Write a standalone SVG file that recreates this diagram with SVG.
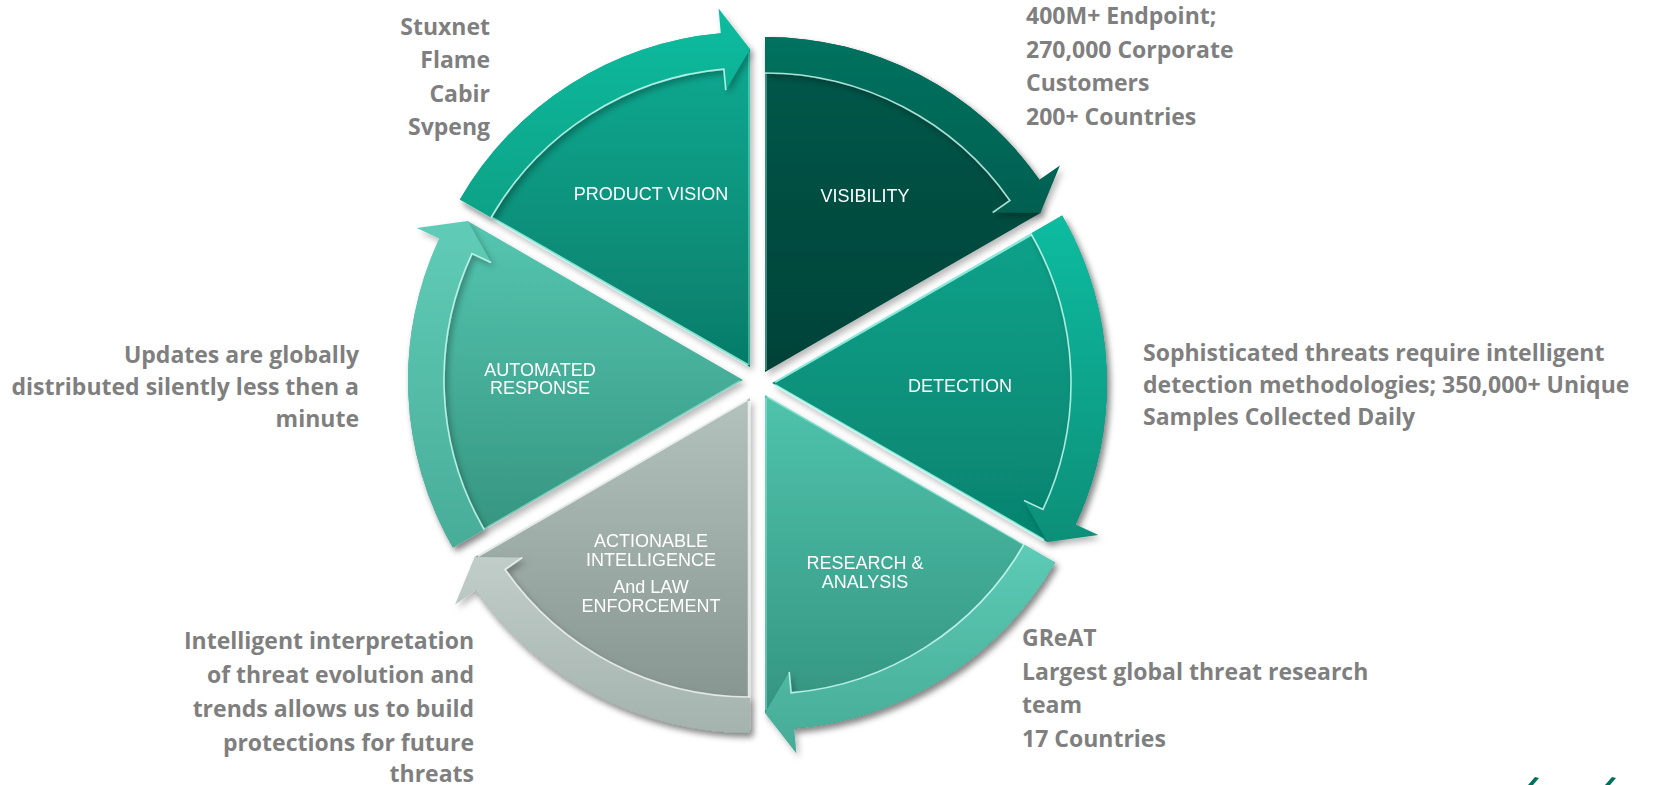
<svg xmlns="http://www.w3.org/2000/svg" width="1660" height="785" viewBox="0 0 1660 785">
  <defs>
    <style>
      .side{font-family:"Open Sans",Lato,"Liberation Sans",Arial,sans-serif;font-weight:700;font-size:23px;fill:#7f7f7f}
      .end{text-anchor:end}
      .lbl{font-family:"Liberation Sans",Arial,sans-serif;font-size:18px;fill:#ffffff;text-anchor:middle}
      .edge{fill:none;stroke:#b8fff2;stroke-width:2.5;stroke-opacity:.75}
      .edge-soft{fill:none;stroke:#b8fff2;stroke-width:1.5;stroke-opacity:.45}
      .rim{fill:none;stroke:#d2fff7;stroke-width:1.6;stroke-opacity:.8}
      .edge-g{fill:none;stroke:#f2f7f6;stroke-width:2.5;stroke-opacity:.8}
      .rim-g{fill:none;stroke:#f4f8f7;stroke-width:1.6;stroke-opacity:.8}
    </style>
    <filter id="shadow" x="-10%" y="-10%" width="130%" height="130%">
      <feDropShadow dx="3" dy="4" stdDeviation="3" flood-color="#000" flood-opacity="0.28"/>
    </filter>
    <!-- segment bodies -->
    <linearGradient id="bPV" x1="0" y1="0" x2="0" y2="1"><stop offset="0" stop-color="#0bac93"/><stop offset="1" stop-color="#067c69"/></linearGradient>
    <linearGradient id="bVIS" x1="0" y1="0" x2="0" y2="1"><stop offset="0" stop-color="#00594b"/><stop offset="1" stop-color="#004238"/></linearGradient>
    <linearGradient id="bDET" x1="0" y1="0" x2="0" y2="1"><stop offset="0" stop-color="#0aa38b"/><stop offset="1" stop-color="#06836f"/></linearGradient>
    <linearGradient id="bRES" x1="0" y1="0" x2="0" y2="1"><stop offset="0" stop-color="#4fc3ac"/><stop offset="1" stop-color="#33937f"/></linearGradient>
    <linearGradient id="bACT" x1="0" y1="0" x2="0" y2="1"><stop offset="0" stop-color="#b4c2be"/><stop offset="1" stop-color="#83918c"/></linearGradient>
    <linearGradient id="bAUT" x1="0" y1="0" x2="0" y2="1"><stop offset="0" stop-color="#55c6b0"/><stop offset="1" stop-color="#34937e"/></linearGradient>
    <!-- arc arrow bands -->
    <linearGradient id="aPV" x1="0" y1="0" x2="0" y2="1"><stop offset="0" stop-color="#0dbc9f"/><stop offset="1" stop-color="#0aa287"/></linearGradient>
    <linearGradient id="aVIS" x1="0" y1="0" x2="0" y2="1"><stop offset="0" stop-color="#00725f"/><stop offset="1" stop-color="#005f50"/></linearGradient>
    <linearGradient id="aDET" x1="0" y1="0" x2="0" y2="1"><stop offset="0" stop-color="#0dbca0"/><stop offset="1" stop-color="#088f79"/></linearGradient>
    <linearGradient id="aRES" x1="0" y1="0" x2="0" y2="1"><stop offset="0" stop-color="#5ccbb5"/><stop offset="1" stop-color="#46ab96"/></linearGradient>
    <linearGradient id="aACT" x1="0" y1="0" x2="0" y2="1"><stop offset="0" stop-color="#c0cdc9"/><stop offset="1" stop-color="#a5b3ae"/></linearGradient>
    <linearGradient id="aAUT" x1="0" y1="0" x2="0" y2="1"><stop offset="0" stop-color="#60ccb7"/><stop offset="1" stop-color="#48ad98"/></linearGradient>
  </defs>

  <rect width="1660" height="785" fill="#ffffff"/>

  <!-- wheel segments -->
  <g id="product-vision" filter="url(#shadow)">
    <path d="M 750 367 L 459.9 199.5 A 335 335 0 0 1 720.8 33.3 L 750 49 Z" fill="url(#bPV)"/>
    <path class="edge" d="M 748 365 L 462 200.5"/>
    <path class="edge-soft" d="M 749 365 L 749 52"/>
    <text class="lbl" x="651" y="200">PRODUCT VISION</text>
  </g>
  <g id="visibility" filter="url(#shadow)">
    <path d="M 765 372 L 765 37 A 335 335 0 0 1 1039.4 179.8 L 1040.4 213 Z" fill="url(#bVIS)"/>
    <path class="edge-soft" d="M 766 370 L 766 40"/>
    <text class="lbl" x="865" y="202">VISIBILITY</text>
  </g>
  <g id="detection" filter="url(#shadow)">
    <path d="M 772 383 L 1062.1 215.5 A 335 335 0 0 1 1075.6 524.6 L 1047.4 542 Z" fill="url(#bDET)"/>
    <path class="edge" d="M 775 382 L 1060 218"/>
    <path class="edge" d="M 775 385 L 1044 540"/>
    <text class="lbl" x="960" y="392">DETECTION</text>
  </g>
  <g id="research-analysis" filter="url(#shadow)">
    <path d="M 765 395 L 1055.1 562.5 A 335 335 0 0 1 794.2 728.7 L 765 713 Z" fill="url(#bRES)"/>
    <path class="edge-soft" d="M 767 397 L 1052 561"/>
    <path class="edge-soft" d="M 766 398 L 766 710"/>
    <text class="lbl" x="865" y="569">RESEARCH &amp;</text>
    <text class="lbl" x="865" y="588">ANALYSIS</text>
  </g>
  <g id="actionable-intelligence" filter="url(#shadow)">
    <path d="M 750 398 L 750 733 A 335 335 0 0 1 475.6 590.2 L 474.6 557 Z" fill="url(#bACT)"/>
    <path class="edge-g" d="M 749 401 L 749 730"/>
    <path class="edge-g" d="M 747 400 L 478 556"/>
    <text class="lbl" x="651" y="547">ACTIONABLE</text>
    <text class="lbl" x="651" y="566">INTELLIGENCE</text>
    <text class="lbl" x="651" y="593">And LAW</text>
    <text class="lbl" x="651" y="612">ENFORCEMENT</text>
  </g>
  <g id="automated-response" filter="url(#shadow)">
    <path d="M 743 380 L 452.9 547.5 A 335 335 0 0 1 439.4 238.4 L 467.6 221 Z" fill="url(#bAUT)"/>
    <path class="edge-soft" d="M 740 381 L 456 545"/>
    <text class="lbl" x="540" y="376">AUTOMATED</text>
    <text class="lbl" x="540" y="394">RESPONSE</text>
  </g>

  <!-- curved arrows running clockwise round the rim of each segment -->
  <g id="connectors" filter="url(#shadow)">
    <path d="M 459.9 199.5 A 335 335 0 0 1 720.8 33.3 L 718.6 8.4 L 750 49 L 725.8 90.1 L 723.9 69.1 A 299 299 0 0 0 491.1 217.5 Z" fill="url(#aPV)"/>
    <path class="rim" d="M 491.1 217.5 A 299 299 0 0 1 723.9 69.1 L 725.8 90.1"/>

    <path d="M 765 37 A 335 335 0 0 1 1039.4 179.8 L 1059.9 165.5 L 1040.4 213 L 992.7 212.5 L 1009.9 200.5 A 299 299 0 0 0 765 73 Z" fill="url(#aVIS)"/>
    <path class="rim" stroke-opacity=".5" d="M 765 73 A 299 299 0 0 1 1009.9 200.5 L 992.7 212.5"/>

    <path d="M 1062.1 215.5 A 335 335 0 0 1 1075.6 524.6 L 1098.3 535.1 L 1047.4 542 L 1024 500.5 L 1043 509.4 A 299 299 0 0 0 1030.9 233.5 Z" fill="url(#aDET)"/>
    <path class="rim" d="M 1030.9 233.5 A 299 299 0 0 1 1043 509.4 L 1024 500.5"/>

    <path d="M 1055.1 562.5 A 335 335 0 0 1 794.2 728.7 L 796.4 753.6 L 765 713 L 789.2 671.9 L 791.1 692.9 A 299 299 0 0 0 1023.9 544.5 Z" fill="url(#aRES)"/>
    <path class="rim" stroke-opacity=".55" d="M 1023.9 544.5 A 299 299 0 0 1 791.1 692.9 L 789.2 671.9"/>

    <path d="M 750 733 A 335 335 0 0 1 475.6 590.2 L 455.1 604.5 L 474.6 557 L 522.3 557.5 L 505.1 569.5 A 299 299 0 0 0 750 697 Z" fill="url(#aACT)"/>
    <path class="rim-g" d="M 750 697 A 299 299 0 0 1 505.1 569.5 L 522.3 557.5"/>

    <path d="M 452.9 547.5 A 335 335 0 0 1 439.4 238.4 L 416.7 227.9 L 467.6 221 L 491 262.5 L 472 253.6 A 299 299 0 0 0 484.1 529.5 Z" fill="url(#aAUT)"/>
    <path class="rim" d="M 484.1 529.5 A 299 299 0 0 1 472 253.6 L 491 262.5"/>
  </g>

  <!-- notes beside the wheel -->
  <g id="note-product-vision">
    <text class="side end" x="490" y="35">Stuxnet</text>
    <text class="side end" x="490" y="68">Flame</text>
    <text class="side end" x="490" y="102">Cabir</text>
    <text class="side end" x="490" y="135">Svpeng</text>
  </g>
  <g id="note-visibility">
    <text class="side" x="1026" y="24">400M+ Endpoint;</text>
    <text class="side" x="1026" y="57.5">270,000 Corporate</text>
    <text class="side" x="1026" y="91">Customers</text>
    <text class="side" x="1026" y="124.5">200+ Countries</text>
  </g>
  <g id="note-detection">
    <text class="side" x="1143" y="360.5">Sophisticated threats require intelligent</text>
    <text class="side" x="1143" y="392.5">detection methodologies; 350,000+ Unique</text>
    <text class="side" x="1143" y="424.5">Samples Collected Daily</text>
  </g>
  <g id="note-research">
    <text class="side" x="1022" y="646">GReAT</text>
    <text class="side" x="1022" y="679.5">Largest global threat research</text>
    <text class="side" x="1022" y="713">team</text>
    <text class="side" x="1022" y="746.5">17 Countries</text>
  </g>
  <g id="note-actionable">
    <text class="side end" x="474" y="649">Intelligent interpretation</text>
    <text class="side end" x="474" y="683">of threat evolution and</text>
    <text class="side end" x="474" y="717">trends allows us to build</text>
    <text class="side end" x="474" y="750.5">protections for future</text>
    <text class="side end" x="474" y="782">threats</text>
  </g>
  <g id="note-automated">
    <text class="side end" x="359" y="362.5">Updates are globally</text>
    <text class="side end" x="359" y="394.5">distributed silently less then a</text>
    <text class="side end" x="359" y="426.5">minute</text>
  </g>

  <!-- corner marks at the lower edge -->
  <g id="corner-marks" fill="#00705a">
    <path d="M 1528 785 L 1535 777 L 1539 778 L 1533 785 Z"/>
    <path d="M 1605 785 L 1612 777 L 1616 778 L 1610 785 Z"/>
  </g>
</svg>
